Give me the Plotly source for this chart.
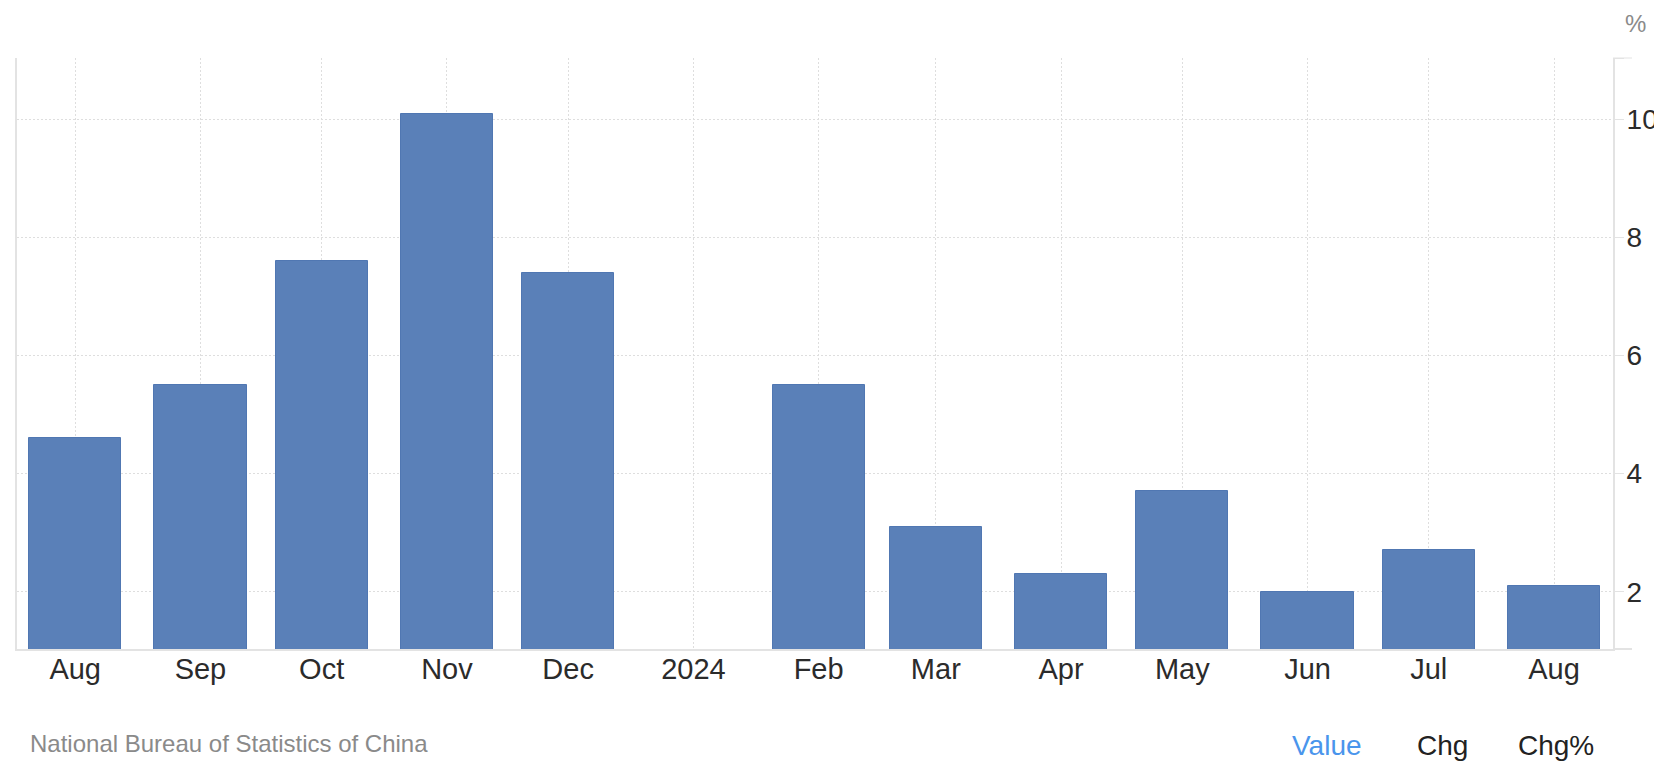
import plotly.graph_objects as go

# ---- data ----
months = ["2023-08-01", "2023-09-01", "2023-10-01", "2023-11-01", "2023-12-01",
          "2024-01-01", "2024-02-01", "2024-03-01", "2024-04-01", "2024-05-01",
          "2024-06-01", "2024-07-01", "2024-08-01"]
values = [4.6, 5.5, 7.6, 10.1, 7.4, None, 5.5, 3.1, 2.3, 3.7, 2.0, 2.7, 2.1]
tick_labels = ["Aug", "Sep", "Oct", "Nov", "Dec", "2024", "Feb", "Mar", "Apr",
               "May", "Jun", "Jul", "Aug"]
y_ticks = [2, 4, 6, 8, 10]

DAY_MS = 86400000
FONT = "Liberation Sans, Arial, Helvetica, sans-serif"
GRID = "#dedede"
AXIS = "#e3e3e3"

fig = go.Figure()
fig.add_trace(go.Bar(
    x=months, y=values,
    width=[22.8 * DAY_MS] * len(months),
    marker=dict(color="#5a80b8", line=dict(color="#5077b2", width=1)),
    hoverinfo="x+y",
))

# page body has an 8px margin; figure placed accordingly
fig.update_layout(
    width=1654, height=764,
    margin=dict(l=9, r=49, t=50, b=123, autoexpand=False),
    paper_bgcolor="white", plot_bgcolor="white",
    showlegend=False,
    bargap=0,
    font=dict(family=FONT, size=29, color="#2b2b2b"),
)

fig.update_xaxes(
    type="date", automargin=False,
    range=["2023-07-17 14:24", "2024-08-15 14:24"],
    tickmode="array", tickvals=months, ticktext=tick_labels,
    showgrid=True, gridcolor=GRID, griddash="2px,2px", gridwidth=1,
    showline=True, linecolor=AXIS, linewidth=2,
    ticks="", tickfont=dict(size=29, color="#2b2b2b"),
    ticklabelstandoff=-7,
    zeroline=False,
)
fig.update_yaxes(
    side="right", automargin=False,
    range=[1.03, 11.04],
    tickmode="array", tickvals=y_ticks + [11.04], ticktext=[str(v) for v in y_ticks] + [""],
    showgrid=True, gridcolor=GRID, griddash="2px,2px", gridwidth=1,
    showline=True, mirror=True, linecolor=AXIS, linewidth=2,
    ticks="outside", ticklen=9, tickcolor=AXIS, tickwidth=1,
    tickfont=dict(size=28, color="#2b2b2b"),
    ticklabelstandoff=-3,
    zeroline=False,
)

# axis line extensions to the right of the plot area
ext = 19 / 1596
fig.add_shape(type="line", xref="paper", yref="paper", x0=1, x1=1 + ext, y0=0, y1=0,
              line=dict(color=AXIS, width=2))
fig.add_shape(type="line", xref="paper", yref="paper", x0=1, x1=1 + ext, y0=1, y1=1,
              line=dict(color=AXIS, width=1))

fig.add_annotation(text="%", xref="paper", yref="paper", x=1 + 23 / 1596, y=1 + 35 / 591,
                   xanchor="center", yanchor="middle", showarrow=False,
                   font=dict(family=FONT, size=24, color="#8a8a8a"))
fig.add_annotation(text="National Bureau of Statistics of China", xref="paper", yref="paper",
                   x=11 / 1596, y=-(743 - 649) / 591, xanchor="left", yanchor="middle",
                   showarrow=False, font=dict(family=FONT, size=24, color="#8a8a8a"))
fig.add_annotation(text="Value", xref="paper", yref="paper",
                   x=(1290 - 17) / 1596, y=-(745 - 649) / 591, xanchor="left", yanchor="middle",
                   showarrow=False, font=dict(family=FONT, size=28, color="#4a95ec"))
fig.add_annotation(text="Chg", xref="paper", yref="paper",
                   x=(1415 - 17) / 1596, y=-(745 - 649) / 591, xanchor="left", yanchor="middle",
                   showarrow=False, font=dict(family=FONT, size=28, color="#222222"))
fig.add_annotation(text="Chg%", xref="paper", yref="paper",
                   x=(1516 - 17) / 1596, y=-(745 - 649) / 591, xanchor="left", yanchor="middle",
                   showarrow=False, font=dict(family=FONT, size=28, color="#222222"))

fig.write_html("out.html")
